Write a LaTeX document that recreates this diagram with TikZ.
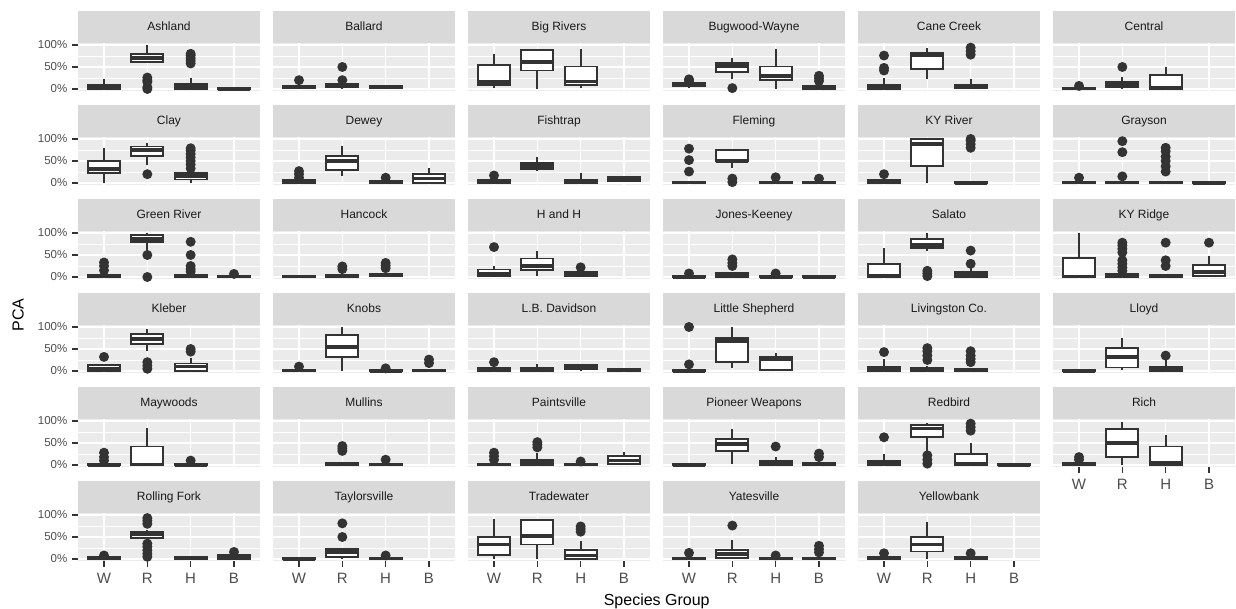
\documentclass[tikz,border=0pt]{standalone}
\usepackage{fontspec}
\setmainfont{Liberation Sans}
\definecolor{panelbg}{HTML}{EBEBEB}
\definecolor{stripbg}{HTML}{D9D9D9}
\definecolor{inkbox}{HTML}{333333}
\definecolor{inktick}{HTML}{4D4D4D}
\definecolor{inkstrip}{HTML}{1A1A1A}

\tikzset{
  cell/.style 2 args={shift={({60.67pt+195pt*#1},{520pt-94pt*#2})}, x=43.33pt, y=44pt},
  grid major/.style={white, line width=1.4pt},
  grid minor/.style={white, line width=0.7pt},
  strip lab/.style={inkstrip, anchor=base, inner sep=0pt, font=\fontsize{12}{14}\selectfont},
  whisk/.style={inkbox, line width=1.9pt},
  boxst/.style={inkbox, fill=white, line width=1.9pt},
  medst/.style={inkbox, line width=3.8pt},
  outl/.style={fill=inkbox},
  axtick/.style={inkbox, line width=1.4pt},
  ylab/.style={inktick, anchor=east, inner sep=0pt, font=\fontsize{11.5}{13}\selectfont},
  xlab/.style={inktick, inner sep=0pt, font=\fontsize{15}{17}\selectfont},
  axtitle/.style={black, font=\fontsize{16}{18}\selectfont},
}

% panel background, grid and strip
\newcommand{\panelframe}[2]{%
  \fill[panelbg] (0.4,-0.05) rectangle (4.6,1.05);
  \draw[grid minor] (0.4,0.25) -- (4.6,0.25) (0.4,0.75) -- (4.6,0.75);
  \foreach \g in {0,0.5,1} \draw[grid major] (0.4,\g) -- (4.6,\g);
  \foreach \k in {1,...,4} \draw[grid major] (\k,-0.05) -- (\k,1.05);
  \fill[stripbg] (0.4,1.05) rectangle (4.6,1.777);
  \node[strip lab] (#1) at (2.5,1.325) {#2};
}
% group, lower, q1, median, q3, upper
\newcommand{\bx}[6]{%
  \draw[whisk] (#1,#2) -- (#1,#3) (#1,#5) -- (#1,#6);
  \draw[boxst] ({#1-0.37},#3) rectangle ({#1+0.37},#5);
  \draw[medst] ({#1-0.37},#4) -- ({#1+0.37},#4);
}
% outliers
\newcommand{\pts}[2]{\foreach \v in {#2} \fill[outl] (#1,\v) circle[radius=5pt];}
% axes
\newcommand{\yaxis}[1]{%
  \foreach \g/\t [count=\i] in {0/0\%,0.5/50\%,1/100\%} {
    \draw[axtick] (0.4,\g) -- ++(-6pt,0pt);
    \node[ylab] (#1-\i) at ([xshift=-10.5pt]0.4,\g) {\t};
  }
}
\newcommand{\xaxis}[1]{%
  \foreach \k/\s in {1/W,2/R,3/H,4/B} {
    \draw[axtick] (\k,-0.05) -- ++(0pt,-6pt);
    \node[xlab] (#1-\s) at ([yshift=-17.3pt]\k,-0.05) {\s};
  }
}

\begin{document}
\begin{tikzpicture}[x=1pt, y=1pt]
\useasboundingbox (0,0) rectangle (1236,609);

% row 1
\begin{scope}[cell={0}{0}]
  \panelframe{ashland}{Ashland} \yaxis{ya1}
  \pts{2}{0,0.04,0.16,0.20,0.26} \pts{3}{0.58,0.64,0.70,0.76,0.80}
  \bx{1}{0}{0}{0.04}{0.10}{0.22} \bx{2}{0.62}{0.62}{0.70}{0.80}{1}
  \bx{3}{0}{0}{0.05}{0.12}{0.24} \bx{4}{0}{0}{0}{0.02}{0.03}
\end{scope}
\begin{scope}[cell={1}{0}]
  \panelframe{ballard}{Ballard}
  \pts{1}{0.20} \pts{2}{0.20,0.50}
  \bx{1}{0}{0.02}{0.05}{0.08}{0.10} \bx{2}{0}{0.05}{0.08}{0.12}{0.15}
  \bx{3}{0}{0.02}{0.05}{0.08}{0.10}
\end{scope}
\begin{scope}[cell={2}{0}]
  \panelframe{bigrivers}{Big Rivers}
  \bx{1}{0.02}{0.10}{0.15}{0.54}{0.80} \bx{2}{0}{0.42}{0.62}{0.89}{0.89}
  \bx{3}{0.02}{0.10}{0.17}{0.51}{0.90}
\end{scope}
\begin{scope}[cell={3}{0}]
  \panelframe{bugwood}{Bugwood-Wayne}
  \pts{1}{0.18,0.22} \pts{2}{0.02} \pts{4}{0.18,0.24,0.30}
  \bx{1}{0.02}{0.06}{0.10}{0.14}{0.15} \bx{2}{0.22}{0.39}{0.53}{0.60}{0.70}
  \bx{3}{0}{0.20}{0.30}{0.51}{0.90} \bx{4}{0}{0}{0.02}{0.06}{0.08}
\end{scope}
\begin{scope}[cell={4}{0}]
  \panelframe{canecreek}{Cane Creek}
  \pts{1}{0.42,0.48,0.76} \pts{3}{0.78,0.86,0.94}
  \bx{1}{0}{0}{0.03}{0.10}{0.24} \bx{2}{0.22}{0.45}{0.77}{0.83}{0.94}
  \bx{3}{0}{0.02}{0.05}{0.10}{0.22}
\end{scope}
\begin{scope}[cell={5}{0}]
  \panelframe{central}{Central}
  \pts{1}{0.07} \pts{2}{0.50}
  \bx{1}{0}{0}{0.01}{0.03}{0.05} \bx{2}{0}{0.05}{0.10}{0.15}{0.28}
  \bx{3}{0}{0}{0.02}{0.32}{0.50}
\end{scope}

% row 2
\begin{scope}[cell={0}{1}]
  \panelframe{clay}{Clay} \yaxis{ya2}
  \pts{2}{0.20} \pts{3}{0.33,0.42,0.50,0.58,0.66,0.74,0.79}
  \bx{1}{0}{0.23}{0.32}{0.50}{0.80} \bx{2}{0.42}{0.62}{0.75}{0.83}{0.90}
  \bx{3}{0}{0.08}{0.15}{0.22}{0.22}
\end{scope}
\begin{scope}[cell={1}{1}]
  \panelframe{dewey}{Dewey}
  \pts{1}{0.12,0.20,0.27} \pts{3}{0.12}
  \bx{1}{0}{0}{0.02}{0.06}{0.08} \bx{2}{0.17}{0.30}{0.50}{0.61}{0.85}
  \bx{3}{0}{0}{0.01}{0.04}{0.06} \bx{4}{0}{0.01}{0.10}{0.20}{0.35}
\end{scope}
\begin{scope}[cell={2}{1}]
  \panelframe{fishtrap}{Fishtrap}
  \pts{1}{0.17}
  \bx{1}{0}{0}{0.02}{0.06}{0.08} \bx{2}{0.28}{0.32}{0.38}{0.46}{0.60}
  \bx{3}{0}{0}{0.02}{0.08}{0.23} \bx{4}{0.02}{0.04}{0.10}{0.14}{0.16}
\end{scope}
\begin{scope}[cell={3}{1}]
  \panelframe{fleming}{Fleming}
  \pts{1}{0.26,0.52,0.78} \pts{2}{0.02,0.10} \pts{3}{0.13} \pts{4}{0.10}
  \bx{1}{0}{0}{0.01}{0.03}{0.05} \bx{2}{0.33}{0.49}{0.50}{0.75}{0.75}
  \bx{3}{0}{0}{0.01}{0.03}{0.05} \bx{4}{0}{0}{0.01}{0.03}{0.04}
\end{scope}
\begin{scope}[cell={4}{1}]
  \panelframe{kyriver}{KY River}
  \pts{1}{0.20} \pts{3}{0.80,0.88,0.96,1}
  \bx{1}{0}{0}{0.02}{0.06}{0.08} \bx{2}{0}{0.39}{0.88}{1}{1}
  \bx{3}{0}{0}{0}{0.03}{0.04}
\end{scope}
\begin{scope}[cell={5}{1}]
  \panelframe{grayson}{Grayson}
  \pts{1}{0.12} \pts{2}{0.15,0.70,0.95} \pts{3}{0.26,0.38,0.50,0.60,0.72,0.80}
  \bx{1}{0}{0}{0.01}{0.03}{0.04} \bx{2}{0}{0}{0.01}{0.03}{0.04}
  \bx{3}{0}{0}{0.01}{0.03}{0.04} \bx{4}{0}{0}{0}{0.02}{0.02}
\end{scope}

% row 3
\begin{scope}[cell={0}{2}]
  \panelframe{greenriver}{Green River} \yaxis{ya3}
  \pts{1}{0.15,0.25,0.33} \pts{2}{0,0.50} \pts{3}{0.12,0.18,0.25,0.50,0.80} \pts{4}{0.07}
  \bx{1}{0}{0}{0.01}{0.04}{0.06} \bx{2}{0.60}{0.80}{0.86}{0.96}{1}
  \bx{3}{0}{0}{0.01}{0.04}{0.06} \bx{4}{0}{0}{0.01}{0.03}{0.04}
\end{scope}
\begin{scope}[cell={1}{2}]
  \panelframe{hancock}{Hancock}
  \pts{2}{0.18,0.24} \pts{3}{0.20,0.26,0.32}
  \bx{1}{0}{0}{0.01}{0.03}{0.04} \bx{2}{0}{0.01}{0.02}{0.05}{0.08}
  \bx{3}{0}{0.02}{0.04}{0.08}{0.10}
\end{scope}
\begin{scope}[cell={2}{2}]
  \panelframe{handh}{H and H}
  \pts{1}{0.68} \pts{3}{0.22}
  \bx{1}{0.02}{0.03}{0.08}{0.17}{0.25} \bx{2}{0.02}{0.16}{0.25}{0.42}{0.60}
  \bx{3}{0}{0.03}{0.06}{0.11}{0.14}
\end{scope}
\begin{scope}[cell={3}{2}]
  \panelframe{joneskeeney}{Jones-Keeney}
  \pts{1}{0.08} \pts{2}{0.25,0.32,0.40} \pts{3}{0.08}
  \bx{1}{0}{0}{0}{0.03}{0.04} \bx{2}{0}{0.01}{0.04}{0.10}{0.12}
  \bx{3}{0}{0}{0}{0.03}{0.04} \bx{4}{0}{0}{0}{0.02}{0.02}
\end{scope}
\begin{scope}[cell={4}{2}]
  \panelframe{salato}{Salato}
  \pts{2}{0.02,0.08,0.14} \pts{3}{0.30,0.60}
  \bx{1}{0}{0}{0.03}{0.30}{0.66} \bx{2}{0.60}{0.65}{0.72}{0.87}{1}
  \bx{3}{0}{0}{0.04}{0.12}{0.20}
\end{scope}
\begin{scope}[cell={5}{2}]
  \panelframe{kyridge}{KY Ridge}
  \pts{2}{0.14,0.22,0.30,0.38,0.56,0.64,0.72,0.78} \pts{3}{0.25,0.38,0.78} \pts{4}{0.78}
  \bx{1}{0}{0}{0.01}{0.44}{1} \bx{2}{0}{0}{0.02}{0.06}{0.08}
  \bx{3}{0}{0}{0.01}{0.05}{0.06} \bx{4}{0}{0.02}{0.12}{0.27}{0.48}
\end{scope}

% row 4
\begin{scope}[cell={0}{3}]
  \panelframe{kleber}{Kleber} \yaxis{ya4}
  \pts{1}{0.32} \pts{2}{0.05,0.12,0.20} \pts{3}{0.44,0.50}
  \bx{1}{0}{0}{0.05}{0.13}{0.16} \bx{2}{0.45}{0.61}{0.72}{0.85}{0.95}
  \bx{3}{0}{0}{0.10}{0.17}{0.30}
\end{scope}
\begin{scope}[cell={1}{3}]
  \panelframe{knobs}{Knobs}
  \pts{1}{0.10} \pts{3}{0.06} \pts{4}{0.18,0.26}
  \bx{1}{0}{0}{0.01}{0.03}{0.04} \bx{2}{0}{0.31}{0.55}{0.82}{1}
  \bx{3}{0}{0}{0}{0.03}{0.04} \bx{4}{0}{0}{0.01}{0.03}{0.04}
\end{scope}
\begin{scope}[cell={2}{3}]
  \panelframe{lbdavidson}{L.B. Davidson}
  \pts{1}{0.20}
  \bx{1}{0}{0}{0.03}{0.07}{0.08} \bx{2}{0}{0.01}{0.04}{0.08}{0.17}
  \bx{3}{0}{0.05}{0.10}{0.14}{0.17} \bx{4}{0}{0}{0.01}{0.04}{0.06}
\end{scope}
\begin{scope}[cell={3}{3}]
  \panelframe{littleshepherd}{Little Shepherd}
  \pts{1}{0.15,1}
  \bx{1}{0}{0}{0}{0.03}{0.04} \bx{2}{0.06}{0.21}{0.68}{0.76}{1}
  \bx{3}{0}{0.02}{0.28}{0.32}{0.40}
\end{scope}
\begin{scope}[cell={4}{3}]
  \panelframe{livingston}{Livingston Co.}
  \pts{1}{0.43} \pts{2}{0.25,0.35,0.45,0.52} \pts{3}{0.20,0.27,0.35,0.45}
  \bx{1}{0}{0}{0.04}{0.10}{0.27} \bx{2}{0}{0}{0.03}{0.08}{0.12}
  \bx{3}{0}{0}{0.01}{0.04}{0.06}
\end{scope}
\begin{scope}[cell={5}{3}]
  \panelframe{lloyd}{Lloyd}
  \pts{3}{0.35}
  \bx{1}{0}{0}{0}{0.02}{0.02} \bx{2}{0.02}{0.08}{0.32}{0.53}{0.74}
  \bx{3}{0}{0}{0.04}{0.10}{0.25}
\end{scope}

% row 5
\begin{scope}[cell={0}{4}]
  \panelframe{maywoods}{Maywoods} \yaxis{ya5}
  \pts{1}{0.10,0.18,0.28} \pts{3}{0.10}
  \bx{1}{0}{0}{0}{0.03}{0.04} \bx{2}{0}{0}{0.01}{0.42}{0.85}
  \bx{3}{0}{0}{0}{0.03}{0.04}
\end{scope}
\begin{scope}[cell={1}{4}]
  \panelframe{mullins}{Mullins}
  \pts{2}{0.32,0.38,0.43} \pts{3}{0.12}
  \bx{2}{0}{0}{0.02}{0.05}{0.07} \bx{3}{0}{0}{0.01}{0.03}{0.04}
\end{scope}
\begin{scope}[cell={2}{4}]
  \panelframe{paintsville}{Paintsville}
  \pts{1}{0.12,0.20,0.28} \pts{2}{0.40,0.46,0.52} \pts{3}{0.08}
  \bx{1}{0}{0}{0.01}{0.03}{0.04} \bx{2}{0}{0}{0.05}{0.12}{0.28}
  \bx{3}{0}{0}{0.01}{0.03}{0.04} \bx{4}{0.02}{0.03}{0.10}{0.21}{0.30}
\end{scope}
\begin{scope}[cell={3}{4}]
  \panelframe{pioneer}{Pioneer Weapons}
  \pts{3}{0.42} \pts{4}{0.18,0.26}
  \bx{1}{0}{0}{0}{0.02}{0.02} \bx{2}{0.02}{0.31}{0.48}{0.60}{0.82}
  \bx{3}{0}{0}{0.04}{0.10}{0.18} \bx{4}{0}{0}{0.01}{0.04}{0.05}
\end{scope}
\begin{scope}[cell={4}{4}]
  \panelframe{redbird}{Redbird}
  \pts{1}{0.63} \pts{2}{0.03,0.12,0.22} \pts{3}{0.78,0.86,0.94}
  \bx{1}{0}{0}{0.04}{0.10}{0.25} \bx{2}{0.32}{0.64}{0.83}{0.91}{0.96}
  \bx{3}{0}{0}{0.02}{0.25}{0.50} \bx{4}{0}{0}{0}{0.02}{0.02}
\end{scope}
\begin{scope}[cell={5}{4}]
  \panelframe{rich}{Rich} \xaxis{xrich}
  \pts{1}{0.12,0.18}
  \bx{1}{0}{0}{0.01}{0.04}{0.05} \bx{2}{0}{0.18}{0.50}{0.82}{0.97}
  \bx{3}{0}{0}{0.05}{0.42}{0.68}
\end{scope}

% row 6
\begin{scope}[cell={0}{5}]
  \panelframe{rollingfork}{Rolling Fork} \yaxis{ya6} \xaxis{xrolling}
  \pts{1}{0.08} \pts{2}{0.05,0.12,0.20,0.28,0.35,0.80,0.87,0.93} \pts{4}{0.16}
  \bx{1}{0}{0}{0.01}{0.05}{0.06} \bx{2}{0.45}{0.48}{0.56}{0.61}{0.65}
  \bx{3}{0}{0}{0.01}{0.05}{0.07} \bx{4}{0}{0.01}{0.05}{0.09}{0.12}
\end{scope}
\begin{scope}[cell={1}{5}]
  \panelframe{taylorsville}{Taylorsville} \xaxis{xtaylor}
  \pts{2}{0.50,0.81} \pts{3}{0.08}
  \bx{1}{0}{0}{0}{0.03}{0.03} \bx{2}{0}{0.05}{0.16}{0.22}{0.26}
  \bx{3}{0}{0}{0.01}{0.03}{0.04}
\end{scope}
\begin{scope}[cell={2}{5}]
  \panelframe{tradewater}{Tradewater} \xaxis{xtrade}
  \pts{3}{0.62,0.68,0.74}
  \bx{1}{0}{0.10}{0.33}{0.49}{0.92} \bx{2}{0}{0.33}{0.52}{0.89}{0.89}
  \bx{3}{0}{0.01}{0.08}{0.21}{0.40}
\end{scope}
\begin{scope}[cell={3}{5}]
  \panelframe{yatesville}{Yatesville} \xaxis{xyates}
  \pts{1}{0.14} \pts{2}{0.76} \pts{3}{0.08} \pts{4}{0.15,0.22,0.30}
  \bx{1}{0}{0}{0.01}{0.03}{0.04} \bx{2}{0}{0.03}{0.12}{0.21}{0.43}
  \bx{3}{0}{0}{0.01}{0.03}{0.04} \bx{4}{0}{0}{0.01}{0.03}{0.04}
\end{scope}
\begin{scope}[cell={4}{5}]
  \panelframe{yellowbank}{Yellowbank} \xaxis{xyellow}
  \pts{1}{0.13} \pts{3}{0.13}
  \bx{1}{0}{0}{0.01}{0.04}{0.05} \bx{2}{0}{0.17}{0.33}{0.51}{0.85}
  \bx{3}{0}{0}{0.01}{0.04}{0.05}
\end{scope}

% axis titles
\node[axtitle, rotate=90] (ytitle) at (18,294) {PCA};
\node[axtitle] (xtitle) at (656.7,8) {Species Group};
\end{tikzpicture}
\end{document}
